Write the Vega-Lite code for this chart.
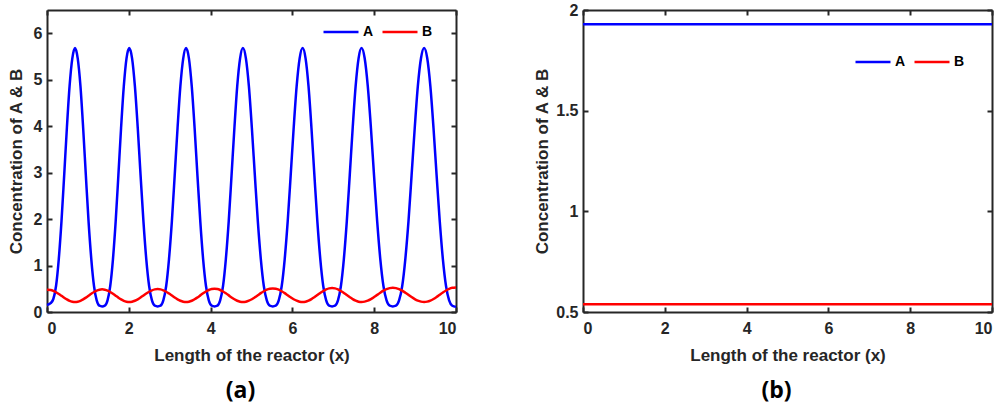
{
  "$schema": "https://vega.github.io/schema/vega-lite/v6.json",
  "background": "white",
  "padding": {"left": 7, "top": 2, "right": 5, "bottom": 2},
  "datasets": {
    "left": [
      {"x": 0, "A": 0.15, "B": 0.48},
      {"x": 0.089, "A": 0.19, "B": 0.474},
      {"x": 0.155, "A": 0.28, "B": 0.455},
      {"x": 0.221, "A": 0.56, "B": 0.425},
      {"x": 0.288, "A": 1.14, "B": 0.388},
      {"x": 0.354, "A": 1.95, "B": 0.348},
      {"x": 0.42, "A": 2.94, "B": 0.307},
      {"x": 0.486, "A": 3.96, "B": 0.27},
      {"x": 0.552, "A": 4.86, "B": 0.24},
      {"x": 0.619, "A": 5.46, "B": 0.222},
      {"x": 0.685, "A": 5.68, "B": 0.215},
      {"x": 0.751, "A": 5.46, "B": 0.222},
      {"x": 0.818, "A": 4.86, "B": 0.241},
      {"x": 0.884, "A": 3.96, "B": 0.271},
      {"x": 0.95, "A": 2.94, "B": 0.309},
      {"x": 1.016, "A": 1.95, "B": 0.351},
      {"x": 1.083, "A": 1.14, "B": 0.393},
      {"x": 1.149, "A": 0.56, "B": 0.431},
      {"x": 1.215, "A": 0.25, "B": 0.461},
      {"x": 1.281, "A": 0.135, "B": 0.48},
      {"x": 1.348, "A": 0.12, "B": 0.487},
      {"x": 1.414, "A": 0.135, "B": 0.48},
      {"x": 1.48, "A": 0.25, "B": 0.461},
      {"x": 1.546, "A": 0.56, "B": 0.431},
      {"x": 1.613, "A": 1.14, "B": 0.393},
      {"x": 1.679, "A": 1.95, "B": 0.351},
      {"x": 1.745, "A": 2.94, "B": 0.309},
      {"x": 1.811, "A": 3.96, "B": 0.271},
      {"x": 1.878, "A": 4.86, "B": 0.241},
      {"x": 1.944, "A": 5.46, "B": 0.222},
      {"x": 2.01, "A": 5.68, "B": 0.215},
      {"x": 2.08, "A": 5.46, "B": 0.222},
      {"x": 2.149, "A": 4.86, "B": 0.242},
      {"x": 2.219, "A": 3.96, "B": 0.272},
      {"x": 2.288, "A": 2.94, "B": 0.311},
      {"x": 2.358, "A": 1.95, "B": 0.354},
      {"x": 2.427, "A": 1.14, "B": 0.397},
      {"x": 2.497, "A": 0.56, "B": 0.436},
      {"x": 2.566, "A": 0.25, "B": 0.467},
      {"x": 2.636, "A": 0.135, "B": 0.487},
      {"x": 2.705, "A": 0.12, "B": 0.494},
      {"x": 2.775, "A": 0.135, "B": 0.487},
      {"x": 2.844, "A": 0.25, "B": 0.467},
      {"x": 2.914, "A": 0.56, "B": 0.436},
      {"x": 2.983, "A": 1.14, "B": 0.397},
      {"x": 3.053, "A": 1.95, "B": 0.354},
      {"x": 3.122, "A": 2.94, "B": 0.311},
      {"x": 3.192, "A": 3.96, "B": 0.272},
      {"x": 3.261, "A": 4.86, "B": 0.242},
      {"x": 3.331, "A": 5.46, "B": 0.222},
      {"x": 3.4, "A": 5.68, "B": 0.215},
      {"x": 3.47, "A": 5.46, "B": 0.222},
      {"x": 3.539, "A": 4.86, "B": 0.242},
      {"x": 3.609, "A": 3.96, "B": 0.274},
      {"x": 3.678, "A": 2.94, "B": 0.314},
      {"x": 3.748, "A": 1.95, "B": 0.358},
      {"x": 3.817, "A": 1.14, "B": 0.402},
      {"x": 3.887, "A": 0.56, "B": 0.442},
      {"x": 3.956, "A": 0.25, "B": 0.473},
      {"x": 4.026, "A": 0.135, "B": 0.494},
      {"x": 4.095, "A": 0.12, "B": 0.5},
      {"x": 4.165, "A": 0.135, "B": 0.494},
      {"x": 4.234, "A": 0.25, "B": 0.473},
      {"x": 4.304, "A": 0.56, "B": 0.442},
      {"x": 4.373, "A": 1.14, "B": 0.402},
      {"x": 4.443, "A": 1.95, "B": 0.358},
      {"x": 4.512, "A": 2.94, "B": 0.314},
      {"x": 4.582, "A": 3.96, "B": 0.274},
      {"x": 4.651, "A": 4.86, "B": 0.242},
      {"x": 4.721, "A": 5.46, "B": 0.222},
      {"x": 4.79, "A": 5.68, "B": 0.215},
      {"x": 4.863, "A": 5.46, "B": 0.222},
      {"x": 4.936, "A": 4.86, "B": 0.243},
      {"x": 5.009, "A": 3.96, "B": 0.275},
      {"x": 5.082, "A": 2.94, "B": 0.316},
      {"x": 5.155, "A": 1.95, "B": 0.361},
      {"x": 5.228, "A": 1.14, "B": 0.407},
      {"x": 5.301, "A": 0.56, "B": 0.447},
      {"x": 5.374, "A": 0.25, "B": 0.48},
      {"x": 5.447, "A": 0.135, "B": 0.5},
      {"x": 5.52, "A": 0.12, "B": 0.508},
      {"x": 5.593, "A": 0.135, "B": 0.5},
      {"x": 5.666, "A": 0.25, "B": 0.48},
      {"x": 5.739, "A": 0.56, "B": 0.447},
      {"x": 5.812, "A": 1.14, "B": 0.407},
      {"x": 5.885, "A": 1.95, "B": 0.361},
      {"x": 5.958, "A": 2.94, "B": 0.316},
      {"x": 6.031, "A": 3.96, "B": 0.275},
      {"x": 6.104, "A": 4.86, "B": 0.243},
      {"x": 6.177, "A": 5.46, "B": 0.222},
      {"x": 6.25, "A": 5.68, "B": 0.215},
      {"x": 6.322, "A": 5.46, "B": 0.222},
      {"x": 6.394, "A": 4.86, "B": 0.244},
      {"x": 6.466, "A": 3.96, "B": 0.277},
      {"x": 6.538, "A": 2.94, "B": 0.319},
      {"x": 6.61, "A": 1.95, "B": 0.365},
      {"x": 6.682, "A": 1.14, "B": 0.411},
      {"x": 6.754, "A": 0.56, "B": 0.453},
      {"x": 6.826, "A": 0.25, "B": 0.486},
      {"x": 6.898, "A": 0.135, "B": 0.508},
      {"x": 6.97, "A": 0.12, "B": 0.515},
      {"x": 7.042, "A": 0.135, "B": 0.508},
      {"x": 7.114, "A": 0.25, "B": 0.486},
      {"x": 7.186, "A": 0.56, "B": 0.453},
      {"x": 7.258, "A": 1.14, "B": 0.411},
      {"x": 7.33, "A": 1.95, "B": 0.365},
      {"x": 7.402, "A": 2.94, "B": 0.319},
      {"x": 7.474, "A": 3.96, "B": 0.277},
      {"x": 7.546, "A": 4.86, "B": 0.244},
      {"x": 7.618, "A": 5.46, "B": 0.222},
      {"x": 7.69, "A": 5.68, "B": 0.215},
      {"x": 7.767, "A": 5.46, "B": 0.223},
      {"x": 7.843, "A": 4.86, "B": 0.244},
      {"x": 7.92, "A": 3.96, "B": 0.278},
      {"x": 7.996, "A": 2.94, "B": 0.321},
      {"x": 8.073, "A": 1.95, "B": 0.369},
      {"x": 8.149, "A": 1.14, "B": 0.416},
      {"x": 8.226, "A": 0.56, "B": 0.459},
      {"x": 8.302, "A": 0.25, "B": 0.493},
      {"x": 8.379, "A": 0.135, "B": 0.514},
      {"x": 8.455, "A": 0.12, "B": 0.522},
      {"x": 8.532, "A": 0.135, "B": 0.514},
      {"x": 8.608, "A": 0.25, "B": 0.493},
      {"x": 8.685, "A": 0.56, "B": 0.459},
      {"x": 8.761, "A": 1.14, "B": 0.416},
      {"x": 8.838, "A": 1.95, "B": 0.369},
      {"x": 8.914, "A": 2.94, "B": 0.321},
      {"x": 8.991, "A": 3.96, "B": 0.278},
      {"x": 9.067, "A": 4.86, "B": 0.244},
      {"x": 9.144, "A": 5.46, "B": 0.223},
      {"x": 9.22, "A": 5.68, "B": 0.215},
      {"x": 9.297, "A": 5.46, "B": 0.223},
      {"x": 9.373, "A": 4.86, "B": 0.245},
      {"x": 9.45, "A": 3.96, "B": 0.28},
      {"x": 9.526, "A": 2.94, "B": 0.323},
      {"x": 9.603, "A": 1.95, "B": 0.372},
      {"x": 9.679, "A": 1.14, "B": 0.42},
      {"x": 9.756, "A": 0.56, "B": 0.463},
      {"x": 9.832, "A": 0.25, "B": 0.498},
      {"x": 9.909, "A": 0.135, "B": 0.52},
      {"x": 10, "A": 0.11, "B": 0.528}
    ],
    "right": [
      {"x": 0, "A": 1.929, "B": 0.538},
      {"x": 5, "A": 1.929, "B": 0.538},
      {"x": 10, "A": 1.929, "B": 0.538}
    ]
  },
  "config": {
    "view": {"stroke": null},
    "axis": {
      "labelFont": "Liberation Sans",
      "labelFontWeight": "bold",
      "labelFontSize": 16,
      "labelColor": "#262626",
      "titleFont": "Liberation Sans",
      "titleFontWeight": "bold",
      "titleFontSize": 17,
      "titleColor": "#262626",
      "domainColor": "#262626",
      "domainWidth": 2,
      "tickColor": "#262626",
      "tickWidth": 2,
      "tickSize": -5,
      "labelPadding": 10,
      "grid": false
    },
    "legend": {
      "orient": "none",
      "direction": "horizontal",
      "symbolType": "stroke",
      "symbolStrokeWidth": 2.5,
      "symbolSize": 1225,
      "labelFont": "Liberation Sans",
      "labelFontSize": 14,
      "labelFontWeight": "bold",
      "labelColor": "black",
      "labelOffset": 3,
      "columnPadding": 3,
      "padding": 0
    },
    "title": {"font": "Open Sans", "fontSize": 23, "fontWeight": "bold", "color": "black", "anchor": "middle"}
  },
  "spacing": 72,
  "resolve": {"legend": {"color": "independent"}},
  "hconcat": [
    {
      "width": 409,
      "height": 302,
      "title": {"text": "(a)", "orient": "bottom", "offset": 17, "frame": "group", "dx": -11},
      "data": {"name": "left"},
      "transform": [{"fold": ["A", "B"], "as": ["species", "c"]}],
      "layer": [
        {
          "mark": {"type": "line", "strokeWidth": 2.5, "interpolate": "monotone"},
          "encoding": {
            "x": {"field": "x", "type": "quantitative", "scale": {"domain": [0, 10], "nice": false},
                  "axis": {"title": "Length of the reactor (x)", "values": [0, 2, 4, 6, 8, 10], "titlePadding": 11, "labelPadding": 13}},
            "y": {"field": "c", "type": "quantitative", "scale": {"domain": [0, 6.5], "nice": false, "zero": false},
                  "axis": {"title": "Concentration of A & B", "values": [0, 1, 2, 3, 4, 5, 6], "titlePadding": 8}},
            "color": {"field": "species", "type": "nominal",
                      "scale": {"domain": ["A", "B"], "range": ["#0000ff", "#ff0000"]},
                      "legend": {"title": null, "legendX": 275, "legendY": 3}}
          }
        },
        {
          "mark": {"type": "line", "strokeOpacity": 0},
          "encoding": {
            "x": {"field": "x", "type": "quantitative",
                  "axis": {"orient": "top", "labels": false, "title": null, "values": [0, 2, 4, 6, 8, 10]}},
            "y": {"field": "c", "type": "quantitative",
                  "axis": {"orient": "right", "labels": false, "title": null, "values": [0, 1, 2, 3, 4, 5, 6]}}
          }
        }
      ],
      "resolve": {"axis": {"x": "independent", "y": "independent"}}
    },
    {
      "width": 409,
      "height": 302,
      "title": {"text": "(b)", "orient": "bottom", "offset": 17, "frame": "group", "dx": -11},
      "data": {"name": "right"},
      "transform": [{"fold": ["A", "B"], "as": ["species", "c"]}],
      "layer": [
        {
          "mark": {"type": "line", "strokeWidth": 2.5},
          "encoding": {
            "x": {"field": "x", "type": "quantitative", "scale": {"domain": [0, 10], "nice": false},
                  "axis": {"title": "Length of the reactor (x)", "values": [0, 2, 4, 6, 8, 10], "titlePadding": 11, "labelPadding": 13}},
            "y": {"field": "c", "type": "quantitative", "scale": {"domain": [0.5, 2], "nice": false, "zero": false},
                  "axis": {"title": "Concentration of A & B", "values": [0.5, 1, 1.5, 2], "format": "~g", "titlePadding": 4}},
            "color": {"field": "species", "type": "nominal",
                      "scale": {"domain": ["A", "B"], "range": ["#0000ff", "#ff0000"]},
                      "legend": {"title": null, "legendX": 271, "legendY": 33}}
          }
        },
        {
          "mark": {"type": "line", "strokeOpacity": 0},
          "encoding": {
            "x": {"field": "x", "type": "quantitative",
                  "axis": {"orient": "top", "labels": false, "title": null, "values": [0, 2, 4, 6, 8, 10]}},
            "y": {"field": "c", "type": "quantitative",
                  "axis": {"orient": "right", "labels": false, "title": null, "values": [0.5, 1, 1.5, 2]}}
          }
        }
      ],
      "resolve": {"axis": {"x": "independent", "y": "independent"}}
    }
  ]
}
